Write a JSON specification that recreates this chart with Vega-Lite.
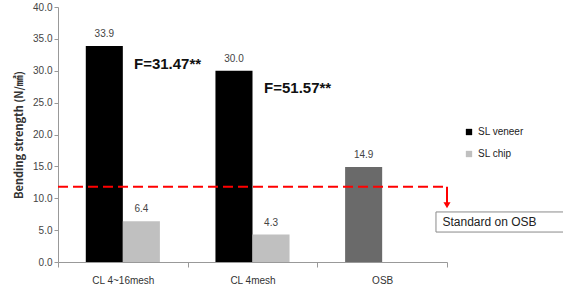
{
  "$schema": "https://vega.github.io/schema/vega-lite/v6.json",
  "width": 389,
  "height": 255,
  "autosize": {"type": "none"},
  "padding": {"left": 58, "top": 7, "right": 116, "bottom": 29},
  "config": {
    "view": {"stroke": null},
    "font": "Liberation Sans",
    "axisY": {
      "titleFont": "Noto Sans CJK KR", "titleFontSize": 11, "titleFontWeight": "bold",
      "titleColor": "#333", "titlePadding": 8,
      "values": [0, 5, 10, 15, 20, 25, 30, 35, 40], "format": ".1f",
      "labelOverlap": false, "labelFontSize": 10, "labelColor": "#444", "grid": false,
      "domainColor": "#999", "tickColor": "#999", "tickSize": 4
    }
  },
  "layer": [
    {
      "data": {
        "values": [
          {"cat": "CL 4~16mesh", "series": "SL veneer", "slot": "SL veneer", "value": 33.9},
          {"cat": "CL 4~16mesh", "series": "SL chip", "slot": "SL chip", "value": 6.4},
          {"cat": "CL 4mesh", "series": "SL veneer", "slot": "SL veneer", "value": 30.0},
          {"cat": "CL 4mesh", "series": "SL chip", "slot": "SL chip", "value": 4.3},
          {"cat": "OSB", "series": "OSB", "slot": "SL veneer", "value": 14.9}
        ]
      },
      "encoding": {
        "x": {
          "field": "cat", "type": "nominal", "sort": null,
          "scale": {"paddingInner": 0, "paddingOuter": 0},
          "axis": {
            "title": null, "labelAngle": 0, "labelFontSize": 10, "labelColor": "#333",
            "labelPadding": 8, "domainColor": "#999", "tickColor": "#999",
            "tickBand": "extent", "tickSize": 5
          }
        },
        "xOffset": {
          "field": "slot", "type": "nominal", "sort": ["SL veneer", "SL chip"],
          "scale": {"paddingInner": 0, "paddingOuter": 0.75}
        },
        "y": {
          "field": "value", "type": "quantitative",
          "scale": {"domain": [0, 40]},
          "axis": {
            "title": "Bending strength (N/㎟)",
            "values": [0, 5, 10, 15, 20, 25, 30, 35, 40], "format": ".1f", "labelOverlap": false
          }
        }
      },
      "layer": [
        {
          "mark": {"type": "bar"},
          "encoding": {
            "color": {
              "field": "series", "type": "nominal",
              "scale": {"domain": ["SL veneer", "SL chip", "OSB"], "range": ["#000000", "#c0c0c0", "#6a6a6a"]},
              "legend": {
                "values": ["SL veneer", "SL chip"], "title": null, "orient": "none",
                "legendX": 406, "legendY": 120, "symbolType": "square", "symbolSize": 40,
                "labelFontSize": 10, "labelColor": "#222", "rowPadding": 12, "symbolOffset": 0
              }
            }
          }
        },
        {
          "mark": {"type": "text", "baseline": "bottom", "dy": -7, "fontSize": 10, "color": "#444"},
          "encoding": {"text": {"field": "value", "type": "quantitative", "format": ".1f"}}
        }
      ]
    },
    {
      "encoding": {
        "x": {"field": "x", "type": "quantitative", "scale": {"domain": [0, 3]}, "axis": null},
        "y": {
          "field": "y", "type": "quantitative", "scale": {"domain": [0, 40]},
          "axis": {
            "title": "Bending strength (N/㎟)",
            "values": [0, 5, 10, 15, 20, 25, 30, 35, 40], "format": ".1f", "labelOverlap": false
          }
        }
      },
      "layer": [
        {
          "data": {"values": [{"x": 0, "x2": 3, "y": 11.8}]},
          "mark": {"type": "rule", "color": "#ff0000", "strokeWidth": 2, "strokeDash": [10, 5]},
          "encoding": {"x2": {"field": "x2"}}
        },
        {
          "data": {"values": [{"x": 3, "y": 11.8, "y2": 9.2}]},
          "mark": {"type": "rule", "color": "#ff0000", "strokeWidth": 2},
          "encoding": {"y2": {"field": "y2"}}
        },
        {
          "data": {"values": [{"x": 3, "y": 8.9}]},
          "mark": {"type": "point", "shape": "triangle-down", "filled": true, "color": "#ff0000", "size": 50, "opacity": 1}
        },
        {
          "data": {"values": [{"x": 2.915, "x2": 3.95, "y": 7.85, "y2": 4.7}]},
          "mark": {"type": "rect", "fill": "#ffffff", "stroke": "#8a8a8a", "strokeWidth": 1},
          "encoding": {"x2": {"field": "x2"}, "y2": {"field": "y2"}}
        },
        {
          "data": {"values": [{"x": 2.965, "y": 6.3, "label": "Standard on OSB"}]},
          "mark": {"type": "text", "align": "left", "baseline": "middle", "fontSize": 12, "color": "#222"},
          "encoding": {"text": {"field": "label"}}
        },
        {
          "data": {"values": [
            {"x": 0.586, "y": 31.0, "label": "F=31.47**"},
            {"x": 1.589, "y": 27.3, "label": "F=51.57**"}
          ]},
          "mark": {"type": "text", "align": "left", "baseline": "middle", "fontSize": 15, "fontWeight": "bold", "color": "#111"},
          "encoding": {"text": {"field": "label"}}
        }
      ]
    }
  ],
  "resolve": {"scale": {"x": "independent"}}
}
